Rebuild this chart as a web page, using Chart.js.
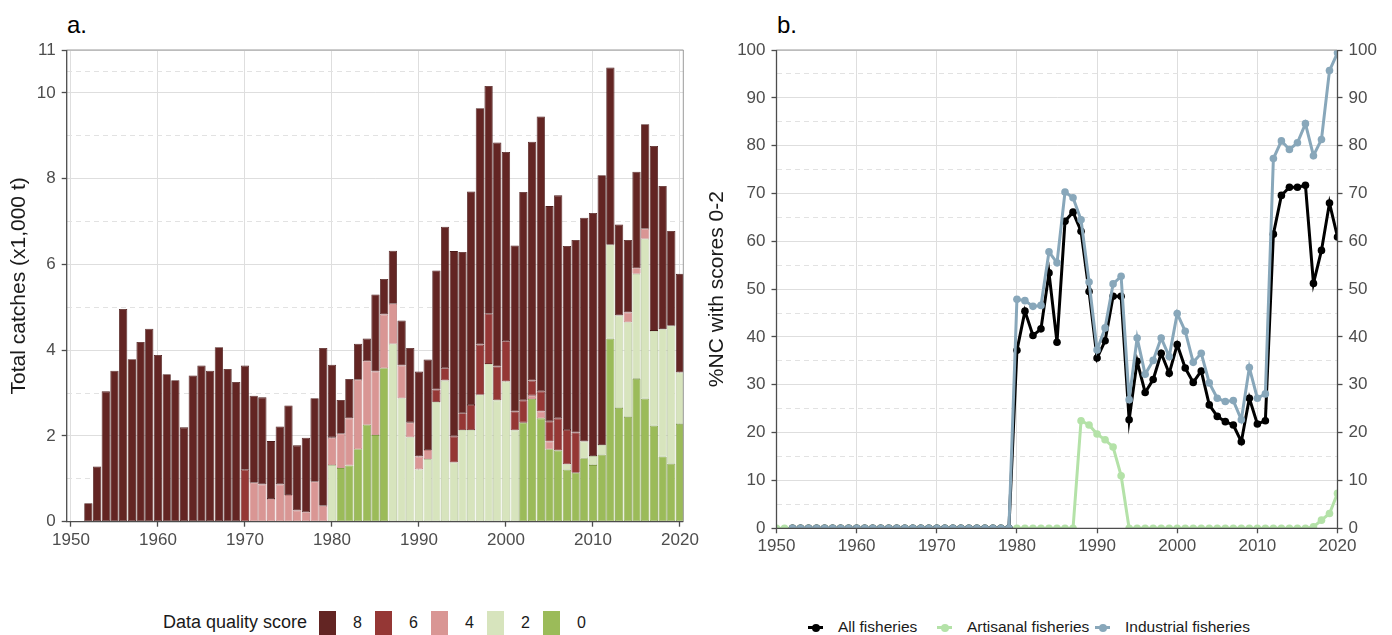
<!DOCTYPE html>
<html>
<head>
<meta charset="utf-8">
<script src="https://cdn.jsdelivr.net/npm/chart.js@4.4.0/dist/chart.umd.min.js"></script>
<style>
  html, body { margin: 0; padding: 0; background: #fff; }
  body { width: 1392px; height: 635px; position: relative; overflow: hidden;
         font-family: "Liberation Sans", Arial, sans-serif; }
  .wrap { position: absolute; top: 0; height: 560px; }
  #wa { left: 0; width: 700px; }
  #wb { left: 700px; width: 692px; }
  .tag { position: absolute; font-size: 24px; line-height: 24px; color: #000; }
  .leg { position: absolute; font-size: 15px; line-height: 20px; color: #1a1a1a; white-space: nowrap; }
  .key { position: absolute; }
</style>
</head>
<body>
<div class="tag" style="left:67px;top:13px">a.</div>
<div class="tag" style="left:777px;top:13px">b.</div>
<div class="wrap" id="wa"><canvas id="ca"></canvas></div>
<div class="wrap" id="wb"><canvas id="cb"></canvas></div>
<div id="legA"></div>
<div id="legB"></div>
<script>
// years shared by both panels
const years = [
  1950, 1951, 1952, 1953, 1954, 1955, 1956, 1957, 1958, 1959,
  1960, 1961, 1962, 1963, 1964, 1965, 1966, 1967, 1968, 1969,
  1970, 1971, 1972, 1973, 1974, 1975, 1976, 1977, 1978, 1979,
  1980, 1981, 1982, 1983, 1984, 1985, 1986, 1987, 1988, 1989,
  1990, 1991, 1992, 1993, 1994, 1995, 1996, 1997, 1998, 1999,
  2000, 2001, 2002, 2003, 2004, 2005, 2006, 2007, 2008, 2009,
  2010, 2011, 2012, 2013, 2014, 2015, 2016, 2017, 2018, 2019,
  2020];

// a. catches (x1,000 t) by data quality score
const score8 = [
  0, 0, 0.43, 1.29, 3.04, 3.52, 4.96, 3.79, 4.19, 4.50,
  3.89, 3.44, 3.30, 2.20, 3.41, 3.64, 3.52, 4.07, 3.56, 3.26,
  2.43, 2.03, 2.03, 1.35, 1.35, 2.09, 1.52, 1.74, 1.95, 3.68,
  1.70, 0.79, 0.92, 0.84, 0.53, 1.80, 0.83, 1.24, 1.05, 1.74,
  1.98, 2.11, 2.78, 3.30, 4.32, 3.76, 4.98, 5.51, 5.31, 5.22,
  4.41, 3.87, 4.86, 5.57, 6.41, 5.02, 5.20, 4.29, 4.49, 5.22,
  5.67, 6.29, 4.13, 2.12, 1.69, 2.25, 2.44, 4.31, 3.34, 2.21,
  2.30];
const score6 = [
  0, 0, 0, 0, 0, 0, 0, 0, 0, 0,
  0, 0, 0, 0, 0, 0, 0, 0, 0, 0,
  1.21, 0, 0, 0, 0, 0, 0, 0, 0, 0,
  0, 0, 0, 0, 0, 0, 0, 0, 0, 0,
  0, 0, 0.29, 0.29, 0.61, 0.39, 0.58, 1.17, 1.17, 0.79,
  0.94, 0.44, 0.52, 0.35, 0.47, 0.47, 0.75, 0.80, 0.94, 0,
  0, 0, 0, 0, 0, 0, 0, 0, 0, 0,
  0];
const score4 = [
  0, 0, 0, 0, 0, 0, 0, 0, 0, 0,
  0, 0, 0, 0, 0, 0, 0, 0, 0, 0,
  0, 0.91, 0.87, 0.53, 0.87, 0.62, 0.26, 0.22, 0.93, 0.37,
  0.64, 0.80, 1.10, 1.62, 1.48, 1.48, 1.25, 0.93, 0.76, 0.34,
  0.30, 0.21, 0, 0, 0, 0, 0, 0, 0, 0,
  0, 0, 0, 0.08, 0.16, 0.18, 0, 0, 0, 0,
  0, 0, 0, 0, 0.23, 0.13, 0.23, 0, 0, 0,
  0];
const score2 = [
  0, 0, 0, 0, 0, 0, 0, 0, 0, 0,
  0, 0, 0, 0, 0, 0, 0, 0, 0, 0,
  0, 0, 0, 0, 0, 0, 0, 0, 0, 0,
  1.32, 0, 0, 0, 0, 0, 0, 4.15, 2.88, 1.97,
  1.22, 1.46, 2.79, 3.29, 1.38, 2.14, 2.14, 2.96, 3.68, 2.83,
  3.27, 2.13, 0, 0, 0, 0, 0, 0.13, 0, 0.39,
  0.21, 0.23, 2.19, 2.16, 2.21, 2.45, 3.73, 2.21, 2.97, 3.22,
  1.20];
const score0 = [
  0, 0, 0, 0, 0, 0, 0, 0, 0, 0,
  0, 0, 0, 0, 0, 0, 0, 0, 0, 0,
  0, 0, 0, 0, 0, 0, 0, 0, 0, 0,
  0, 1.25, 1.31, 1.69, 2.26, 2.02, 3.58, 0, 0, 0,
  0, 0, 0, 0, 0, 0, 0, 0, 0, 0,
  0, 0, 2.31, 2.86, 2.41, 1.69, 1.66, 1.21, 1.14, 1.48,
  1.32, 1.56, 4.27, 2.65, 2.44, 3.33, 2.87, 2.24, 1.52, 1.35,
  2.28];

// b. %NC with scores 0-2
const allFish = [
  null, null, 0, 0, 0, 0, 0, 0, 0, 0,
  0, 0, 0, 0, 0, 0, 0, 0, 0, 0,
  0, 0, 0, 0, 0, 0, 0, 0, 0, 0,
  37.2, 45.4, 40.3, 41.7, 53.4, 38.9, 64.2, 66.1, 62.1, 49.5,
  35.6, 39.2, 48.5, 48.5, 22.7, 34.9, 28.4, 31.1, 36.6, 32.4,
  38.4, 33.5, 30.5, 32.9, 25.8, 23.4, 22.3, 21.6, 18.1, 27.2,
  21.8, 22.5, 61.5, 69.6, 71.3, 71.3, 71.7, 51.2, 58.1, 68.0,
  60.9];
const artFish = [
  0, 0, 0, 0, 0, 0, 0, 0, 0, 0,
  0, 0, 0, 0, 0, 0, 0, 0, 0, 0,
  0, 0, 0, 0, 0, 0, 0, 0, 0, 0,
  0, 0, 0, 0, 0, 0, 0, 0, 22.5, 21.6,
  19.7, 18.5, 17.0, 11.0, 0, 0, 0, 0, 0, 0,
  0, 0, 0, 0, 0, 0, 0, 0, 0, 0,
  0, 0, 0, 0, 0, 0, 0, 0.3, 1.7, 3.1,
  7.3];
const indFish = [
  null, null, 0, 0, 0, 0, 0, 0, 0, 0,
  0, 0, 0, 0, 0, 0, 0, 0, 0, 0,
  0, 0, 0, 0, 0, 0, 0, 0, 0, 0,
  47.9, 47.6, 46.4, 46.6, 57.8, 55.5, 70.3, 69.1, 64.5, 51.5,
  37.3, 41.9, 51.1, 52.7, 26.9, 39.8, 32.2, 35.1, 39.8, 35.9,
  44.9, 41.2, 34.7, 36.6, 30.4, 27.2, 26.5, 26.7, 22.7, 33.6,
  27.2, 28.1, 77.3, 81.0, 79.2, 80.6, 84.6, 77.9, 81.3, 95.7,
  99.4];

const xTicks = [1950, 1960, 1970, 1980, 1990, 2000, 2010, 2020];
const yTicksA = [0, 2, 4, 6, 8, 10, 11];
const yMinorA = [1, 3, 5, 7, 9, 10.5];
const yTicksB = [0, 10, 20, 30, 40, 50, 60, 70, 80, 90, 100];

const scoreNames = ["8", "6", "4", "2", "0"];
const scoreColors = ["#632523", "#953735", "#d99694", "#d7e4bd", "#9bbb59"];
const scoreEdges = ["#4b1b1a", "#742a29", "#bf7c7b", "#b9c79f", "#819e47"];
const scoreSeries = [score8, score6, score4, score2, score0];

const fishNames = ["All fisheries", "Artisanal fisheries", "Industrial fisheries"];
const fishColors = ["#000000", "#b4e2a8", "#88a7ba"];
const fishSeries = [allFish, artFish, indFish];
const fishOrder = [1, 2, 0]; // industrial drawn on top

Chart.defaults.font.family = "'Liberation Sans', Arial, sans-serif";
Chart.defaults.color = "#4d4d4d";

const GRID = "#dedede";
const AXIS = "#4d4d4d";

// panel frame: dark left/bottom axis lines, light top border
function framePlugin(rightDark) {
  return {
    id: "frame",
    afterDatasetsDraw(chart) {
      const { ctx, chartArea: a } = chart;
      ctx.save();
      ctx.lineWidth = 1;
      ctx.strokeStyle = "#9a9a9a";
      ctx.beginPath();
      ctx.moveTo(a.left, a.top); ctx.lineTo(a.right, a.top);
      if (!rightDark) { ctx.moveTo(a.right, a.top); ctx.lineTo(a.right, a.bottom); }
      ctx.stroke();
      ctx.lineWidth = 1.3;
      ctx.strokeStyle = AXIS;
      ctx.beginPath();
      ctx.moveTo(a.left, a.top); ctx.lineTo(a.left, a.bottom); ctx.lineTo(a.right, a.bottom);
      if (rightDark) ctx.lineTo(a.right, a.top);
      ctx.stroke();
      ctx.restore();
    },
  };
}

const tickFont = { size: 17 };
const isMinor = (ctx, list) => ctx.tick && list.includes(ctx.tick.value);

// ---------- a. stacked bars ----------
const barSets = scoreSeries
  .map((arr, i) => ({
    label: scoreNames[i],
    data: years.map((yr, j) => ({ x: yr, y: arr[j] || null })),
    backgroundColor: scoreColors[i],
    borderColor: scoreEdges[i],
    borderWidth: 0.8,
    borderSkipped: false,
    barPercentage: 0.95,
    categoryPercentage: 1,
  }))
  .reverse(); // score 0 at the bottom of the stack

new Chart(document.getElementById("ca"), {
  type: "bar",
  data: { datasets: barSets },
  options: {
    responsive: true,
    maintainAspectRatio: false,
    animation: false,
    layout: { padding: { top: 50, right: 16.7, left: 0, bottom: 0 }, autoPadding: false },
    plugins: { legend: { display: false }, tooltip: { enabled: false } },
    scales: {
      x: {
        type: "linear",
        stacked: true,
        offset: false,
        min: 1949.51,
        max: 2020.38,
        afterBuildTicks: s => { s.ticks = xTicks.map(v => ({ value: v })); },
        afterFit: s => { s.height = 38.3; s.paddingLeft = 0; s.paddingRight = 0; },
        ticks: { callback: v => String(v), font: tickFont, padding: 3, maxRotation: 0, autoSkip: false },
        grid: { offset: false, color: GRID, tickColor: AXIS, tickLength: 5, tickWidth: 1.3 },
        border: { display: false },
      },
      y: {
        stacked: true,
        min: 0,
        max: 11,
        afterBuildTicks: s => {
          s.ticks = [...yTicksA, ...yMinorA].sort((a, b) => a - b).map(v => ({ value: v }));
        },
        afterFit: s => { s.width = 66.7; s.paddingTop = 0; s.paddingBottom = 0; },
        ticks: {
          callback: v => (yTicksA.includes(v) ? String(v) : ""),
          font: tickFont, padding: 6, autoSkip: false,
        },
        grid: {
          color: ctx => (isMinor(ctx, yMinorA) ? "#e2e2e2" : GRID),
          tickColor: ctx => (isMinor(ctx, yMinorA) ? "rgba(0,0,0,0)" : AXIS),
          tickLength: 5, tickWidth: 1.3,
        },
        border: { display: false, dash: ctx => (isMinor(ctx, yMinorA) ? [5, 4] : []) },
        title: {
          display: true, text: "Total catches (x1,000 t)", color: "#1a1a1a",
          font: { size: 21 }, padding: { top: 7, bottom: 0 },
        },
      },
    },
  },
  plugins: [framePlugin(false)],
});

// ---------- b. lines ----------
const lineSets = fishSeries.map((arr, i) => ({
  label: fishNames[i],
  data: years.map((yr, j) => ({ x: yr, y: arr[j] })),
  borderColor: fishColors[i],
  backgroundColor: fishColors[i],
  pointBackgroundColor: fishColors[i],
  pointBorderWidth: 0,
  pointRadius: 3.8,
  borderWidth: 3,
  tension: 0,
  order: fishOrder[i],
  yAxisID: "y",
}));

new Chart(document.getElementById("cb"), {
  type: "line",
  data: { datasets: lineSets },
  options: {
    responsive: true,
    maintainAspectRatio: false,
    animation: false,
    layout: { padding: { top: 50, right: 0, left: 0, bottom: 0 }, autoPadding: false },
    plugins: { legend: { display: false }, tooltip: { enabled: false } },
    scales: {
      x: {
        type: "linear",
        min: 1950,
        max: 2020,
        afterBuildTicks: s => { s.ticks = xTicks.map(v => ({ value: v })); },
        afterFit: s => { s.height = 31.7; s.paddingLeft = 0; s.paddingRight = 0; },
        ticks: { callback: v => String(v), font: tickFont, padding: 3, maxRotation: 0, autoSkip: false },
        grid: { color: GRID, tickColor: AXIS, tickLength: 5, tickWidth: 1.3 },
        border: { display: false },
      },
      y: {
        position: "left",
        min: 0,
        max: 100,
        ticks: {
          stepSize: 5,
          callback: v => (yTicksB.includes(v) ? String(v) : ""),
          font: tickFont, padding: 6, autoSkip: false,
        },
        afterFit: s => { s.width = 76.5; s.paddingTop = 0; s.paddingBottom = 0; },
        grid: {
          color: ctx => (ctx.tick && !yTicksB.includes(ctx.tick.value) ? "#e2e2e2" : GRID),
          tickColor: ctx => (ctx.tick && !yTicksB.includes(ctx.tick.value) ? "rgba(0,0,0,0)" : AXIS),
          tickLength: 5, tickWidth: 1.3,
        },
        border: { display: false, dash: ctx => (ctx.tick && !yTicksB.includes(ctx.tick.value) ? [5, 4] : []) },
        title: {
          display: true, text: "%NC with scores 0-2", color: "#1a1a1a",
          font: { size: 21 }, padding: { top: 5, bottom: 0 },
        },
      },
      y2: {
        position: "right",
        min: 0,
        max: 100,
        afterBuildTicks: s => { s.ticks = yTicksB.map(v => ({ value: v })); },
        afterFit: s => { s.width = 54.5; s.paddingTop = 0; s.paddingBottom = 0; },
        ticks: { callback: v => String(v), font: tickFont, padding: 6, autoSkip: false },
        grid: { drawOnChartArea: false, tickColor: AXIS, tickLength: 5, tickWidth: 1.3 },
        border: { display: false },
      },
    },
  },
  plugins: [framePlugin(true)],
});

// ---------- legends (HTML) ----------
const legA = document.getElementById("legA");
legA.innerHTML = `<div class="leg" style="left:163px;top:612px;font-size:18px">Data quality score</div>`;
scoreNames.forEach((n, i) => {
  legA.innerHTML +=
    `<div class="key" style="left:${319 + 56 * i}px;top:611px;width:17px;height:24px;background:${scoreColors[i]}"></div>` +
    `<div class="leg" style="left:${353 + 56 * i}px;top:613px;font-size:16px">${n}</div>`;
});

const legB = document.getElementById("legB");
const legBx = [808, 937, 1095];
fishNames.forEach((n, i) => {
  const x = legBx[i];
  legB.innerHTML +=
    `<div class="key" style="left:${x}px;top:626px;width:15px;height:3px;background:${fishColors[i]}"></div>` +
    `<div class="key" style="left:${x + 3.5}px;top:623.5px;width:8px;height:8px;border-radius:50%;background:${fishColors[i]}"></div>` +
    `<div class="leg" style="left:${x + 30}px;top:617px;font-size:15.5px">${n}</div>`;
});
</script>
</body>
</html>
